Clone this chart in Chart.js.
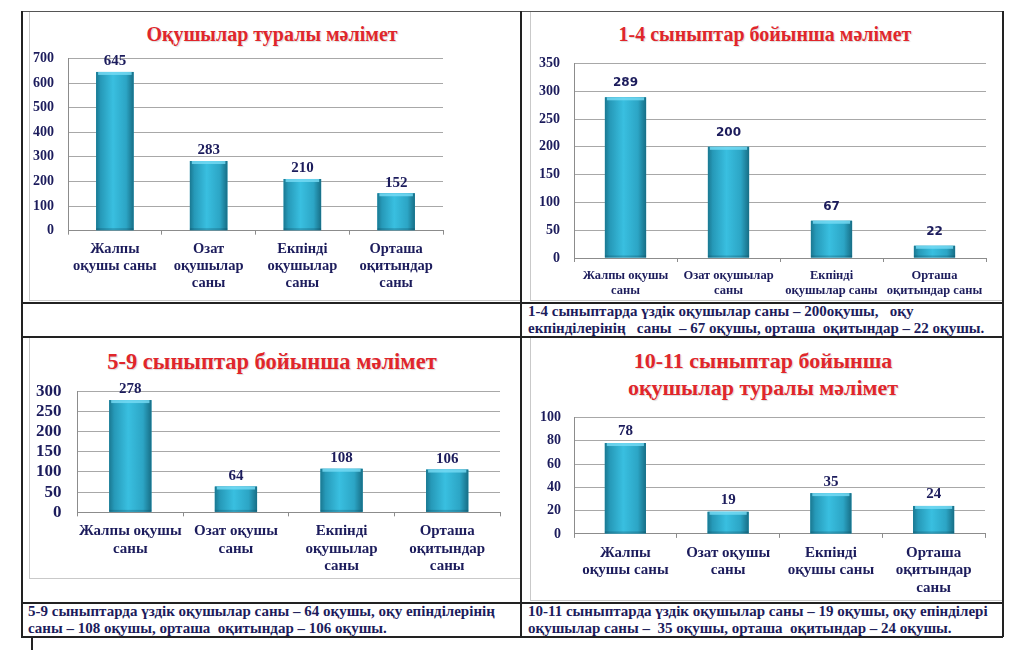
<!DOCTYPE html>
<html>
<head>
<meta charset="utf-8">
<script src="https://cdn.jsdelivr.net/npm/chart.js@4.4.1/dist/chart.umd.min.js"></script>
<style>
  body { margin: 0; background: #fff; width: 1024px; height: 650px; overflow: hidden; position: relative; font-family: "Liberation Serif", "DejaVu Serif", serif; }
  .ln { position: absolute; background: #222; }
  .frame { position: absolute; border: 1px solid #c9c9c9; border-top: none; border-right: none; }
  .title { position: absolute; color: #e0262b; font-weight: bold; text-align: center; text-shadow: 1px 1px 1px rgba(0,0,0,0.15); line-height: 1.3; }
  .note { position: absolute; color: #1c1c5c; font-weight: bold; font-size: 15px; line-height: 16.5px; white-space: pre; }
  .box { position: absolute; }
</style>
</head>
<body>
<!-- table lines -->
<div class="ln" style="left:21px;top:11px;width:982px;height:1px;background:#555"></div>
<div class="ln" style="left:21px;top:11px;width:1.5px;height:626px"></div>
<div class="ln" style="left:1002px;top:11px;width:1.5px;height:626px"></div>
<div class="ln" style="left:520px;top:11px;width:1.5px;height:626px"></div>
<div class="ln" style="left:21px;top:302px;width:982px;height:1.5px"></div>
<div class="ln" style="left:21px;top:336px;width:982px;height:1.5px"></div>
<div class="ln" style="left:21px;top:602px;width:982px;height:1.5px"></div>
<div class="ln" style="left:21px;top:636px;width:982px;height:1.5px"></div>
<div class="ln" style="left:31px;top:637px;width:1.5px;height:13px"></div>

<div class="frame" style="left:29px;top:12px;width:490px;height:288px"></div>
<div class="frame" style="left:530px;top:12px;width:471px;height:288px"></div>
<div class="frame" style="left:29px;top:338px;width:490px;height:240px"></div>
<div class="frame" style="left:530px;top:338px;width:471px;height:262px"></div>

<div class="title" style="left:22px;width:500px;top:21px;font-size:20px">Оқушылар туралы мәлімет</div>
<div class="title" style="left:515px;width:500px;top:21px;font-size:20px">1-4 сыныптар бойынша мәлімет</div>
<div class="title" style="left:22px;width:500px;top:347px;font-size:22.5px">5-9 сыныптар бойынша мәлімет</div>
<div class="title" style="left:513px;width:500px;top:347px;font-size:22px;line-height:27px">10-11 сыныптар бойынша<br>оқушылар туралы мәлімет</div>

<div class="note" style="left:528px;top:303px">1-4 сыныптарда үздік оқушылар саны – 200оқушы,   оқу
екпінділерінің   саны  – 67 оқушы, орташа  оқитындар – 22 оқушы.</div>
<div class="note" style="left:28px;top:603px">5-9 сыныптарда үздік оқушылар саны – 64 оқушы, оқу епінділерінің
саны – 108 оқушы, орташа  оқитындар – 106 оқушы.</div>
<div class="note" style="left:528px;top:603px">10-11 сыныптарда үздік оқушылар саны – 19 оқушы, оқу епінділері
оқушылар саны –  35 оқушы, орташа  оқитындар – 24 оқушы.</div>

<div class="box" style="left:19px;top:36px;width:441px;height:264px"><canvas id="c1"></canvas></div>
<div class="box" style="left:525px;top:41px;width:475px;height:263px"><canvas id="c2"></canvas></div>
<div class="box" style="left:20px;top:365px;width:496px;height:216px"><canvas id="c3"></canvas></div>
<div class="box" style="left:527px;top:396px;width:472px;height:207px"><canvas id="c4"></canvas></div>

<script>
// chart 1: all pupils
const categories1 = [['Жалпы', 'оқушы саны'], ['Озат', 'оқушылар', 'саны'], ['Екпінді', 'оқушылар', 'саны'], ['Орташа', 'оқитындар', 'саны']];
const values1 = [645, 283, 210, 152];
const yMax1 = 700, yStep1 = 100;

// chart 2: grades 1-4
const categories2 = [['Жалпы оқушы', 'саны'], ['Озат оқушылар', 'саны'], ['Екпінді', 'оқушылар саны'], ['Орташа', 'оқитындар саны']];
const values2 = [289, 200, 67, 22];
const yMax2 = 350, yStep2 = 50;

// chart 3: grades 5-9
const categories3 = [['Жалпы оқушы', 'саны'], ['Озат оқушы', 'саны'], ['Екпінді', 'оқушылар', 'саны'], ['Орташа', 'оқитындар', 'саны']];
const values3 = [278, 64, 108, 106];
const yMax3 = 300, yStep3 = 50;

// chart 4: grades 10-11
const categories4 = [['Жалпы', 'оқушы саны'], ['Озат оқушы', 'саны'], ['Екпінді', 'оқушы саны'], ['Орташа', 'оқитындар', 'саны']];
const values4 = [78, 19, 35, 24];
const yMax4 = 100, yStep4 = 20;

const navy = '#1c1c5c';
const serif = '"Liberation Serif", "DejaVu Serif", serif';

// shaded cylinder look + value labels on top
const barLook = {
  id: 'barLook',
  afterDatasetsDraw(chart, args, opts) {
    const ctx = chart.ctx;
    const meta = chart.getDatasetMeta(0);
    const data = chart.data.datasets[0].data;
    ctx.save();
    meta.data.forEach((bar, i) => {
      const p = bar.getProps(['x', 'y', 'base', 'width'], true);
      const l = p.x - p.width / 2;
      const g = ctx.createLinearGradient(l, 0, l + p.width, 0);
      g.addColorStop(0, '#1a7891');
      g.addColorStop(0.12, '#2699b8');
      g.addColorStop(0.45, '#39bfe0');
      g.addColorStop(0.8, '#2ca5c5');
      g.addColorStop(1, '#176e86');
      ctx.fillStyle = g;
      ctx.fillRect(l, p.y, p.width, p.base - p.y);
      ctx.fillStyle = 'rgba(120,220,245,0.8)';
      ctx.fillRect(l + 2, p.y, p.width - 4, 3);
      ctx.fillStyle = 'rgba(10,60,80,0.25)';
      ctx.fillRect(l, p.base - 2, p.width, 2);

      ctx.font = opts.font;
      ctx.fillStyle = navy;
      ctx.textAlign = 'center';
      ctx.textBaseline = 'bottom';
      ctx.fillText(String(data[i]), p.x, p.y - opts.offset);
    });
    ctx.restore();
  }
};

function makeChart(id, labels, values, yMax, yStep, o) {
  new Chart(document.getElementById(id), {
    type: 'bar',
    data: {
      labels: labels,
      datasets: [{
        data: values,
        backgroundColor: '#2aa6c7',
        barPercentage: 0.5,
        categoryPercentage: 0.8
      }]
    },
    options: {
      responsive: true,
      maintainAspectRatio: false,
      animation: false,
      layout: { padding: o.padding },
      plugins: {
        legend: { display: false },
        tooltip: { enabled: false },
        barLook: { font: o.valueFont, offset: o.valueOffset }
      },
      scales: {
        x: {
          grid: { display: true, drawOnChartArea: false, drawTicks: true, tickLength: 4, color: '#8c8c8c' },
          border: { color: '#8c8c8c' },
          ticks: {
            color: navy, font: { family: serif, weight: 'bold', size: o.xSize, lineHeight: o.xLine },
            maxRotation: 0, autoSkip: false, padding: o.xPad
          }
        },
        y: {
          min: 0, max: yMax,
          grid: { color: '#a8a8a8', drawTicks: false },
          border: { color: '#8c8c8c' },
          ticks: {
            stepSize: yStep, autoSkip: false, color: navy, padding: o.yPad,
            font: { family: serif, weight: 'bold', size: o.ySize }
          }
        }
      }
    },
    plugins: [barLook]
  });
}

makeChart('c1', categories1, values1, yMax1, yStep1, {
  padding: { top: 0, right: 17, bottom: 2, left: 0 },
  valueFont: 'bold 15px "Liberation Serif"', valueOffset: 3,
  xSize: 14.5, xLine: 1.18, xPad: 6, ySize: 14, yPad: 14
});
makeChart('c2', categories2, values2, yMax2, yStep2, {
  padding: { top: 0, right: 14, bottom: 0, left: 0 },
  valueFont: 'bold 12px "DejaVu Sans"', valueOffset: 8,
  xSize: 12.5, xLine: 1.2, xPad: 6, ySize: 14, yPad: 14
});
makeChart('c3', categories3, values3, yMax3, yStep3, {
  padding: { top: 0, right: 16, bottom: 0, left: 0 },
  valueFont: 'bold 15px "Liberation Serif"', valueOffset: 3,
  xSize: 15, xLine: 1.17, xPad: 6, ySize: 17, yPad: 16
});
makeChart('c4', categories4, values4, yMax4, yStep4, {
  padding: { top: 0, right: 14, bottom: 0, left: 0 },
  valueFont: 'bold 15px "Liberation Serif"', valueOffset: 4,
  xSize: 15, xLine: 1.18, xPad: 6, ySize: 14, yPad: 13
});
</script>
</body>
</html>
